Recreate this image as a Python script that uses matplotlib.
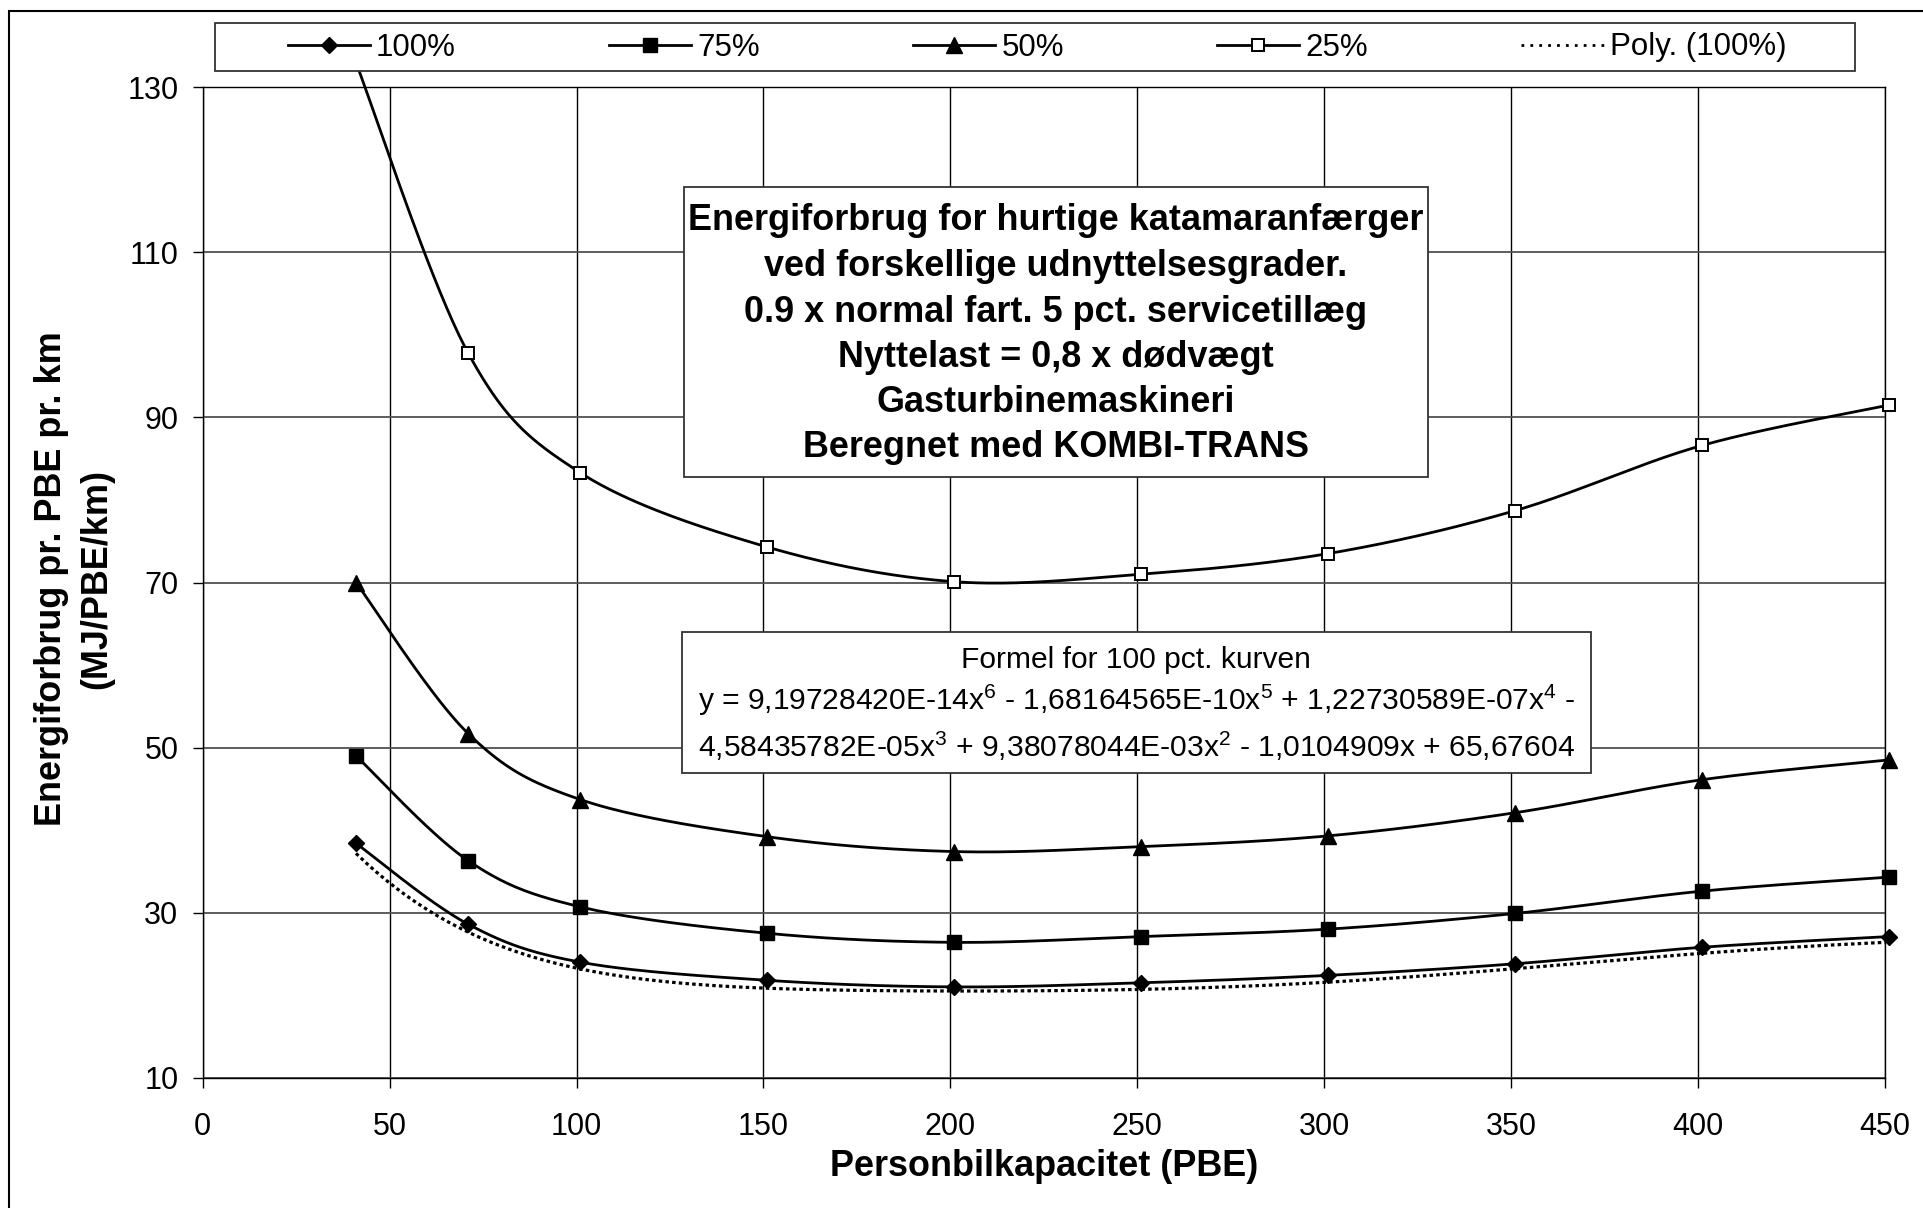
import numpy as np
import matplotlib
matplotlib.use("Agg")
import matplotlib.pyplot as plt
from matplotlib.lines import Line2D
from matplotlib.patches import Rectangle

plt.rcParams['font.family'] = ['Liberation Sans', 'DejaVu Sans']
plt.rcParams['mathtext.fontset'] = 'custom'
plt.rcParams['mathtext.rm'] = 'Liberation Sans'
plt.rcParams['mathtext.it'] = 'Liberation Sans:italic'
plt.rcParams['mathtext.bf'] = 'Liberation Sans:bold'

# data
pbe = [41, 71, 101, 151, 201, 251, 301, 351, 401, 451]
u100 = [38.4, 28.6, 24.0, 21.8, 21.0, 21.5, 22.4, 23.8, 25.8, 27.1]
u75 = [49.0, 36.3, 30.7, 27.5, 26.4, 27.1, 28.0, 29.9, 32.6, 34.3]
u50 = [70.0, 51.7, 43.7, 39.2, 37.4, 38.0, 39.3, 42.1, 46.1, 48.5]
u25 = [133.0, 97.8, 83.3, 74.3, 70.1, 71.0, 73.5, 78.7, 86.6, 91.5]

# trendline coefficients as printed (x^6 ... x^0)
poly_coef = [9.19728420e-14, -1.68164565e-10, 1.22730589e-07,
             -4.58435782e-05, 9.38078044e-03, -1.0104909, 65.67604]

series_labels = ['100%', '75%', '50%', '25%']
title_lines = ['Energiforbrug for hurtige katamaranfærger',
               'ved forskellige udnyttelsesgrader.',
               '0.9 x normal fart. 5 pct. servicetillæg',
               'Nyttelast = 0,8 x dødvægt',
               'Gasturbinemaskineri',
               'Beregnet med KOMBI-TRANS']
formula_lines = ['Formel for 100 pct. kurven',
                 r'y = 9,19728420E-14x$^{6}$ - 1,68164565E-10x$^{5}$ + 1,22730589E-07x$^{4}$ -',
                 r'4,58435782E-05x$^{3}$ + 9,38078044E-03x$^{2}$ - 1,0104909x + 65,67604']

W, H = 1924, 1208


def fx(px):
    return px / W


def fy(py):
    return 1 - py / H


def smooth(xs, ys, n=40):
    # excel-like smoothed line: cubic bezier through points
    P = np.column_stack([xs, ys]).astype(float)
    E = np.vstack([P[0], P, P[-1]])
    out = []
    t = np.linspace(0, 1, n)[:, None]
    for i in range(len(P) - 1):
        p0, p1, p2, p3 = E[i], E[i + 1], E[i + 2], E[i + 3]
        c1 = p1 + (p2 - p0) / 6
        c2 = p2 - (p3 - p1) / 6
        seg = (1 - t) ** 3 * p1 + 3 * (1 - t) ** 2 * t * c1 + 3 * (1 - t) * t ** 2 * c2 + t ** 3 * p2
        out.append(seg if i == 0 else seg[1:])
    pts = np.vstack(out)
    return pts[:, 0], pts[:, 1]


fig = plt.figure(figsize=(W / 100, H / 100), dpi=100)
ax = fig.add_axes([fx(202.7), fy(1077.7), fx(1885) - fx(202.7), (1077.7 - 87.3) / H])

styles = [
    dict(marker='D', ms=8, mfc='k', mec='k'),
    dict(marker='s', ms=9.5, mfc='k', mec='k'),
    dict(marker='^', ms=11, mfc='k', mec='k'),
    dict(marker='s', ms=9, mfc='white', mec='k', mew=1.4),
]
handles = []
for ys, st, lab in zip([u100, u75, u50, u25], styles, series_labels):
    sx, sy = smooth(pbe, ys)
    ax.plot(sx, sy, color='k', lw=2, zorder=3, clip_on=False)
    ax.plot(pbe, ys, ls='none', zorder=4, clip_on=False, **st)
    handles.append(Line2D([], [], color='k', lw=2, label=lab, **st))

xt = np.linspace(pbe[0], pbe[-1], 300)
ax.plot(xt, np.polyval(poly_coef, xt), color='k', lw=2.3, ls=(0, (1.1, 1.0)), zorder=3)
handles.append(Line2D([], [], color='k', lw=2, ls=(0, (1.0, 2.2)), label='Poly. (100%)'))

ax.set_xlim(0, 450)
ax.set_ylim(10, 130)
ax.set_xticks(np.arange(0, 451, 50))
ax.set_yticks(np.arange(10, 131, 20))
ax.grid(axis='x', color='k', lw=1)
ax.grid(axis='y', color='#505050', lw=1.3)
for s in ax.spines.values():
    s.set_color('k')
    s.set_linewidth(1)
ax.tick_params(direction='out', length=7, width=1, labelsize=22, colors='k')
ax.tick_params(axis='x', pad=18)
ax.tick_params(axis='y', pad=10.5)

# axis titles
fig.text(fx(1044), fy(1166), 'Personbilkapacitet (PBE)', ha='center', va='center',
         fontsize=25.9, fontweight='bold')
fig.text(fx(51.7), fy(579), 'Energiforbrug pr. PBE pr. km', rotation=90, ha='center',
         va='center', fontsize=25.9, fontweight='bold')
fig.text(fx(96.7), fy(579), '(MJ/PBE/km)', rotation=90, ha='center',
         va='center', fontsize=25.9, fontweight='bold')

# outer chart border
fig.add_artist(Rectangle((fx(8.6), fy(1240)), 1, (1240 - 11.3) / H, transform=fig.transFigure,
                         fill=False, ec='k', lw=1.5, zorder=2, clip_on=False))

# legend box
fig.add_artist(Rectangle((fx(215.5), fy(70.7)), (1855 - 215.5) / W, 48 / H,
                         transform=fig.transFigure, fc='white', ec='#333333', lw=1.3, zorder=3))
fig.legend(handles=handles, loc='center', bbox_to_anchor=(fx(1037), fy(47.5)), ncol=5,
           frameon=False, fontsize=22.5, handlelength=2.63, handletextpad=0.2,
           columnspacing=4.9, numpoints=1, borderpad=0)

# title box
fig.add_artist(Rectangle((fx(684.4), fy(477.3)), (1427.7 - 684.4) / W, (477.3 - 186.7) / H,
                         transform=fig.transFigure, fc='white', ec='#333333', lw=1.3, zorder=3))
for line, yb in zip(title_lines, [230, 276, 321.7, 366.7, 411.7, 457.3]):
    fig.text(fx(1056), fy(yb), line, ha='center', va='baseline', fontsize=25.9,
             fontweight='bold', zorder=4)

# formula box
fig.add_artist(Rectangle((fx(681.8), fy(773.3)), (1591 - 681.8) / W, (773.3 - 632.3) / H,
                         transform=fig.transFigure, fc='white', ec='#333333', lw=1.3, zorder=3))
for line, yb in zip(formula_lines, [668.3, 710, 756.7]):
    fig.text(fx(1136.4), fy(yb), line, ha='center', va='baseline', fontsize=21.6, zorder=4)

fig.savefig('out.png', dpi=100)
